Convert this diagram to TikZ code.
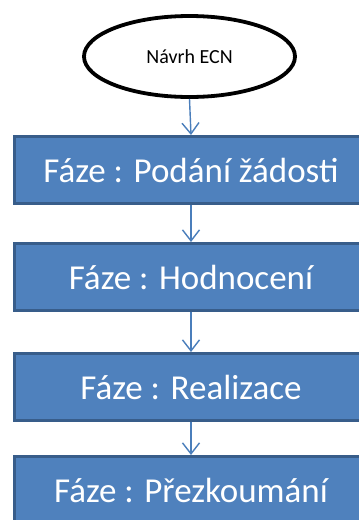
\documentclass[tikz,border=0pt]{standalone}
\usepackage{fontspec}
\setmainfont{Carlito}
\usetikzlibrary{shapes.geometric,arrows.meta}
\definecolor{phasefill}{HTML}{4F81BD}
\definecolor{phaseedge}{HTML}{385D8A}
\definecolor{flowline}{HTML}{4A7EBB}
\tikzset{
  startnode/.style={ellipse, draw=black, line width=3.8pt, fill=white,
    minimum width=211pt, minimum height=81pt, inner sep=0pt,
    font=\fontsize{20pt}{24pt}\selectfont},
  phase/.style={rectangle, draw=phaseedge, line width=3pt, fill=phasefill,
    minimum width=354pt, minimum height=67pt, inner sep=0pt, text=white,
    font=\fontsize{35pt}{40pt}\selectfont},
  flow/.style={draw=flowline, line width=1.4pt,
    -{Straight Barb[length=11pt,width=17pt,line width=1.4pt]}}
}
\begin{document}
\begin{tikzpicture}[x=1pt,y=-1pt]
  \useasboundingbox (0,0) rectangle (359,520);
  \clip (0,0) rectangle (359,520);
  \fill[white] (0,0) rectangle (359,520);
  \node[startnode] (start) at (189.5,56.5) {Návrh ECN};
  \node[phase] (p1) at (191,170) {Fáze : Podání žádosti};
  \node[phase] (p2) at (191,277) {Fáze : Hodnocení};
  \node[phase] (p3) at (191,387) {Fáze : Realizace};
  \node[phase] (p4) at (191,490) {Fáze : Přezkoumání};
  \draw[flow] (start.south) -- (p1.north);
  \draw[flow] (p1.south) -- (p2.north);
  \draw[flow] (p2.south) -- (p3.north);
  \draw[flow] (p3.south) -- (p4.north);
\end{tikzpicture}
\end{document}
